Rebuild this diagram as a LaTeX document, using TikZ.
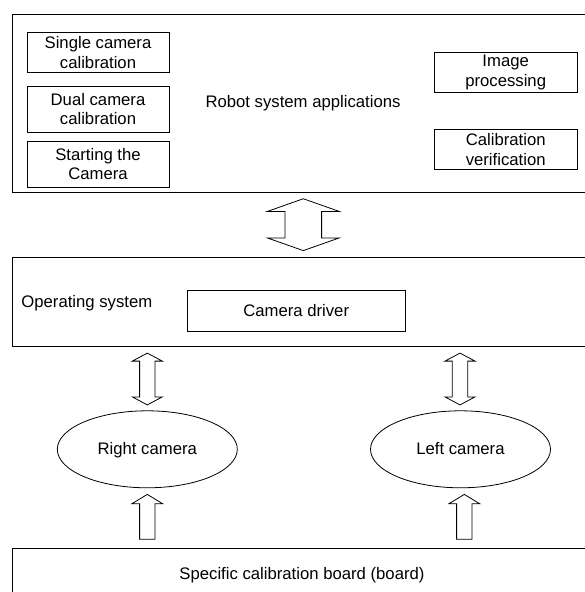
\documentclass[tikz,border=0pt]{standalone}
\usepackage{fontspec}
\setmainfont{Liberation Sans}
\usepackage{tikz}
\usetikzlibrary{calc,positioning,shapes}

% hollow block arrows: tip(s), shaft half width, head half width, head length
\newcommand{\blockdual}[5]{%
	\draw (#1) -- ($(#1)+(#4,#5)$) -- ($(#1)+(#3,#5)$) -- ($(#2)+(#3,-#5)$)
		-- ($(#2)+(#4,-#5)$) -- (#2) -- ($(#2)+(-#4,-#5)$) -- ($(#2)+(-#3,-#5)$)
		-- ($(#1)+(-#3,#5)$) -- ($(#1)+(-#4,#5)$) -- cycle;}
\newcommand{\blocksingle}[5]{%
	\draw (#1) -- ($(#1)+(#4,#5)$) -- ($(#1)+(#3,#5)$) -- ($(#2)+(#3,0)$)
		-- ($(#2)+(-#3,0)$) -- ($(#1)+(-#3,#5)$) -- ($(#1)+(-#4,#5)$) -- cycle;}

\begin{document}
\begin{tikzpicture}[x=1pt,y=-1pt,line width=0.8pt,
						every node/.style={
							font=\fontsize{16.7}{19.7}\selectfont,
							inner sep=0pt
						},
						layer/.style={
							rectangle,
							draw=black,
							minimum width=582pt
						},
						block/.style={
							rectangle,
							draw=black,
							align=center
						},
						camera/.style={
							ellipse,
							draw=black,
							text height=1.08em,
							text depth=0pt,
							minimum width=180pt,
							minimum height=77pt
						}]

						\useasboundingbox (0,0) rectangle (584,592);

						% Application layer and its blocks
						\node [layer, minimum height=178.3pt] (apps) at (303,103.2) {Robot system applications};
						\node [block, minimum width=142pt, minimum height=39.6pt] (single) at (98,52.5) {Single camera\\calibration};
						\node [block, minimum width=142pt, minimum height=46pt, below=13pt of single] (dual) {Dual camera\\calibration};
						\node [block, minimum width=142pt, minimum height=46pt, below=8pt of dual] (starting) {Starting the\\Camera};
						\node [block, minimum width=143.3pt, minimum height=40pt] (imgproc) at (505.7,72.3) {Image\\processing};
						\node [block, minimum width=143.3pt, minimum height=40pt, below=36.7pt of imgproc] (verify) {Calibration\\verification};

						% Operating system layer
						\node [layer, minimum height=89.4pt] (os) at (303,302) {};
						\node [anchor=west] (oslabel) at (21,302.7) {Operating system};
						\node [block, minimum width=217.7pt, minimum height=41.4pt] (driver) at (296.2,311) {Camera driver};

						% Cameras
						\node [camera] (rightcam) at (147.3,449.3) {Right camera};
						\node [camera] (leftcam) at (460.5,449.3) {Left camera};

						% Calibration board
						\node [layer, minimum height=60pt, anchor=north] (board) at (303,548.3) {};
						\node [anchor=base] (boardlabel) at (302,579.5) {Specific calibration board (board)};

						%% Block arrows between the layers
						\coordinate (appsout) at ($(apps.south)+(0.3,6)$);
						\coordinate (osin) at ($(os.north)+(0.3,-6.3)$);
						\blockdual{appsout}{osin}{18.3}{36}{12.7}

						\coordinate (rightup) at ($(rightcam.north |- os.south)+(0,6)$);
						\coordinate (rightdown) at ($(rightcam.north)+(0,-5.5)$);
						\blockdual{rightup}{rightdown}{7.7}{15}{8}

						\coordinate (leftup) at ($(leftcam.north |- os.south)+(-0.5,6)$);
						\coordinate (leftdown) at ($(leftcam.north)+(-0.5,-5.5)$);
						\blockdual{leftup}{leftdown}{7.7}{15}{8}

						\coordinate (righttip) at ($(rightcam.south)+(0,6.2)$);
						\coordinate (rightbase) at ($(rightcam.south |- board.north)+(0,-9)$);
						\blocksingle{righttip}{rightbase}{7.7}{15.3}{9.3}

						\coordinate (lefttip) at ($(leftcam.south)+(3.8,6.2)$);
						\coordinate (leftbase) at ($(leftcam.south |- board.north)+(3.8,-9)$);
						\blocksingle{lefttip}{leftbase}{7.7}{15.3}{9.3}
					\end{tikzpicture}
\end{document}
